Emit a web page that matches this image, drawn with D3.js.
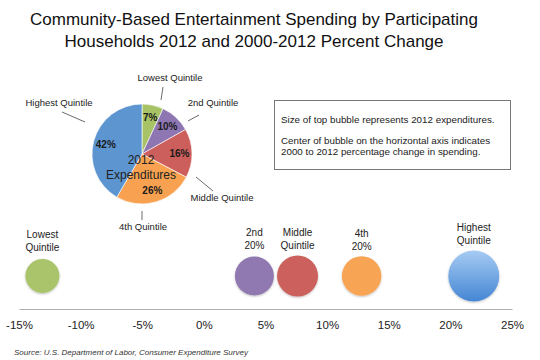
<!DOCTYPE html>
<html><head><meta charset="utf-8">
<script src="https://cdn.jsdelivr.net/npm/d3@7"></script>
<style>body{margin:0;background:#fff;} text{font-family:"Liberation Sans",Arial,sans-serif;}</style>
</head><body><svg id="c" width="540" height="360"></svg>
<script>
const quintiles = ["Lowest Quintile","2nd Quintile","Middle Quintile","4th Quintile","Highest Quintile"];
const share2012 = [7,10,16,26,42];
const pctChange = [-13.1,4.1,7.6,12.8,21.9];
const bubbleSize = [2.9,3.8,4.2,3.9,6.5];
const bubbleLabels = [["Lowest","Quintile"],["2nd","20%"],["Middle","Quintile"],["4th","20%"],["Highest","Quintile"]];
const xTicks = [-15,-10,-5,0,5,10,15,20,25];
const pieColors = ["#a7c365","#8e76b2","#cc5f5b","#f8a251","#5c95d0"];
const bubbleColors = ["#a9c46a","#9078b0","#cb615d","#f8a455","#5b97dc"];

const svg = d3.select("#c");
const defs = svg.append("defs");
const f = defs.append("filter").attr("id","sh").attr("x","-30%").attr("y","-30%").attr("width","160%").attr("height","160%");
f.append("feDropShadow").attr("dx",0).attr("dy",1).attr("stdDeviation",1).attr("flood-color","#000").attr("flood-opacity",0.25);
const g = defs.append("linearGradient").attr("id","bg").attr("x1",0).attr("y1",0).attr("x2",0).attr("y2",1);
g.append("stop").attr("offset","0%").attr("stop-color","#a6cbf3");
g.append("stop").attr("offset","100%").attr("stop-color","#4586d4");

// Title
svg.append("text").attr("x",254).attr("y",25).attr("text-anchor","middle").attr("font-size",17).attr("fill","#111")
  .text("Community-Based Entertainment Spending by Participating");
svg.append("text").attr("x",254).attr("y",47).attr("text-anchor","middle").attr("font-size",17).attr("fill","#111")
  .text("Households 2012 and 2000-2012 Percent Change");

// Bubble axis
const x = d3.scaleLinear().domain([-15,25]).range([19,512]);
const y = d3.scaleLinear().domain([0,1]).range([309,276]);
const r = d3.scaleSqrt().domain([0,6.5]).range([0,25.5]);
const axis = d3.axisBottom(x).tickValues(xTicks).tickSize(0).tickPadding(12).tickFormat(d=>d+"%");
const ax = svg.append("g").attr("transform","translate(0,309)").call(axis);
ax.select(".domain").attr("stroke","#b0b0b0").attr("stroke-width",1.2);
ax.selectAll("text").attr("font-size",11.5).attr("fill","#222").attr("font-family","Liberation Sans, Arial, sans-serif");

const bub = svg.append("g");
bub.selectAll("circle").data(pctChange).join("circle")
  .attr("cx",d=>x(d)).attr("cy",y(1)).attr("r",(d,i)=>r(bubbleSize[i]))
  .attr("fill",(d,i)=> i===4 ? "url(#bg)" : bubbleColors[i]).attr("filter","url(#sh)");
const labTop = [238,236,236,237,231];
bub.selectAll("text.bl").data(pctChange).join("text").attr("class","bl")
  .attr("text-anchor","middle").attr("font-size",10).attr("fill","#222")
  .each(function(d,i){
    const t = d3.select(this);
    bubbleLabels[i].forEach((s,k)=>{
      t.append("tspan").attr("x",x(d)).attr("y",labTop[i]+k*12.5).text(s);
    });
  });

// Pie
const cx = 142, cy = 154, R = 50;
const pie = d3.pie().sort(null).value(d=>d);
const arcs = pie(share2012);
const arc = d3.arc().innerRadius(0).outerRadius(R);
const lab = d3.arc().innerRadius(R*0.5).outerRadius(R);
const pg = svg.append("g").attr("transform",`translate(${cx},${cy})`);
pg.selectAll("path").data(arcs).join("path").attr("d",arc)
  .attr("fill",(d,i)=>pieColors[i]).attr("stroke","#fff").attr("stroke-width",0.6);
pg.selectAll("text.p").data(arcs).join("text").attr("class","p")
  .attr("transform",d=>`translate(${lab.centroid(d)})`).attr("dy","0.35em")
  .attr("text-anchor","middle").attr("font-size",10).attr("font-weight","bold").attr("fill","#1a1a1a")
  .text(d=>d.data+"%");
pg.append("text").attr("x",-1).attr("y",10).attr("text-anchor","middle").attr("font-size",12).attr("fill","#222").text("2012");
pg.append("text").attr("x",-1).attr("y",25).attr("text-anchor","middle").attr("font-size",12).attr("fill","#222").text("Expenditures");

// Outer pie labels with leader lines
const outer = [
  {t:quintiles[0], x:170, y:81, l:[163,87,161,100]},
  {t:quintiles[1], x:213, y:106, l:[199,115,188,121]},
  {t:quintiles[2], x:222, y:201, l:[196,177,213,191]},
  {t:quintiles[3], x:143, y:230, l:[142,211,142,220]},
  {t:quintiles[4], x:59, y:106, l:[62,112,85,122]}
];
outer.forEach(o=>{
  svg.append("text").attr("x",o.x).attr("y",o.y).attr("text-anchor","middle").attr("font-size",9.5).attr("fill","#222").text(o.t);
  svg.append("line").attr("x1",o.l[0]).attr("y1",o.l[1]).attr("x2",o.l[2]).attr("y2",o.l[3]).attr("stroke","#444").attr("stroke-width",0.8);
});

// Note box
svg.append("rect").attr("x",274.5).attr("y",100.5).attr("width",236).attr("height",69).attr("fill","#fff").attr("stroke","#777").attr("stroke-width",1);
const notes = [["Size of top bubble represents 2012 expenditures.",122.5],["Center of bubble on the horizontal axis indicates",143.5],["2000 to 2012 percentage change in spending.",155]];
notes.forEach(n=>svg.append("text").attr("x",281).attr("y",n[1]).attr("font-size",9.8).attr("fill","#222").text(n[0]));

// Source
svg.append("text").attr("x",14).attr("y",355).attr("font-size",8).attr("font-style","italic").attr("fill","#333")
  .text("Source: U.S. Department of Labor, Consumer Expenditure Survey");
</script></body></html>
